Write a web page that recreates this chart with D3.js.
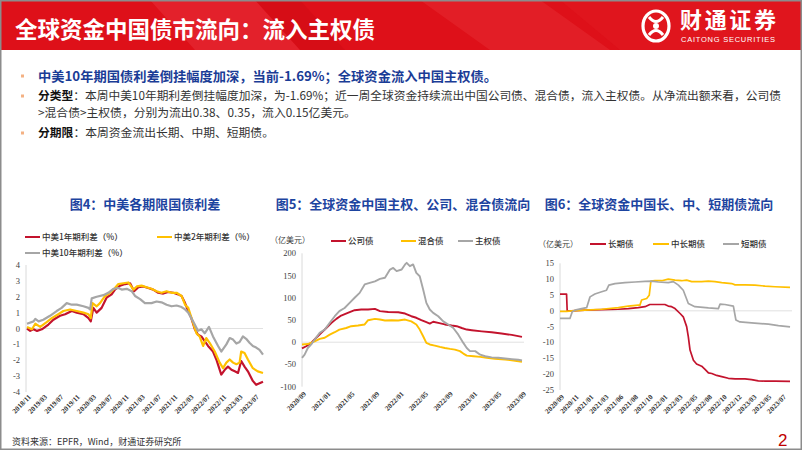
<!DOCTYPE html>
<html><head><meta charset="utf-8">
<script src="https://cdn.jsdelivr.net/npm/d3@7/dist/d3.min.js"></script>
<style>html,body{margin:0;padding:0;background:#fff;}svg{display:block;}</style>
</head><body>
<svg id="chart" width="802" height="451"></svg>
<script>
// ---------------- DATA ----------------
const pageTitle = "全球资金中国债市流向：流入主权债";
const bullet1 = "中美10年期国债利差倒挂幅度加深，当前-1.69%；全球资金流入中国主权债。";
const bullet2Head = "分类型";
const bullet2Line1 = "：本周中美10年期利差倒挂幅度加深，为-1.69%；近一周全球资金持续流出中国公司债、混合债，流入主权债。从净流出额来看，公司债";
const bullet2Line2 = ">混合债>主权债，分别为流出0.38、0.35，流入0.15亿美元。";
const bullet3Head = "分期限";
const bullet3Body = "：本周资金流出长期、中期、短期债。";
const sourceText = "资料来源：EPFR，Wind，财通证券研究所";
const pageNum = "2";

// Figure 4
const fig4Title = "图4：中美各期限国债利差";
const fig4Legend = ["中美1年期利差（%）", "中美2年期利差（%）", "中美10年期利差（%）"];
const fig4YTicks = [4, 3, 2, 1, 0, -1, -2, -3, -4];
const fig4XTicks = ["2018-11-01","2019-03-01","2019-07-01","2019-11-01","2020-03-01","2020-07-01","2020-11-01","2021-03-01","2021-07-01","2021-11-01","2022-03-01","2022-07-01","2022-11-01","2023-03-01","2023-07-01"];
const fig4Domain = ["2018-11-01", "2023-09-01"];
const fig4Dates1Y = ["2018-11-01","2018-11-25","2018-12-20","2019-01-15","2019-02-20","2019-04-10","2019-05-17","2019-07-06","2019-08-13","2019-10-02","2019-11-08","2019-12-28","2020-02-04","2020-02-21","2020-03-11","2020-04-05","2020-05-12","2020-06-19","2020-07-26","2020-08-20","2020-09-27","2020-11-04","2020-12-11","2021-01-10","2021-02-11","2021-03-19","2021-04-26","2021-06-02","2021-07-09","2021-08-16","2021-09-22","2021-10-30","2021-12-06","2021-12-31","2022-01-26","2022-02-19","2022-03-14","2022-04-09","2022-05-03","2022-05-28","2022-06-22","2022-07-17","2022-08-23","2022-09-17","2022-10-24","2022-11-19","2022-12-13","2023-01-08","2023-02-02","2023-02-26","2023-03-22","2023-04-16","2023-05-11","2023-06-17","2023-07-12","2023-08-06","2023-09-01"];
const fig4Val1Y = [0.0,-0.15,-0.05,-0.15,-0.05,0.25,0.55,0.8,0.9,1.1,1.0,0.9,0.65,0.45,1.3,1.0,1.3,1.95,2.15,2.45,2.7,2.8,2.85,2.35,2.6,2.65,2.55,2.45,2.25,2.2,2.3,2.25,2.15,2.05,1.6,1.1,0.65,-0.05,-0.4,-0.5,-0.8,-1.1,-1.45,-1.95,-2.9,-2.6,-2.4,-2.6,-2.7,-2.8,-2.05,-2.4,-2.7,-3.3,-3.55,-3.45,-3.35];
const fig4Dates2Y = ["2018-11-01","2018-12-08","2019-01-02","2019-02-08","2019-03-28","2019-05-05","2019-06-23","2019-07-31","2019-09-19","2019-11-08","2019-12-28","2020-02-04","2020-02-21","2020-03-05","2020-04-05","2020-04-30","2020-06-07","2020-07-14","2020-08-20","2020-09-14","2020-10-22","2020-11-28","2021-01-05","2021-01-30","2021-03-07","2021-04-13","2021-05-20","2021-06-27","2021-08-03","2021-09-10","2021-10-17","2021-11-24","2021-12-31","2022-01-26","2022-02-19","2022-03-27","2022-04-21","2022-05-15","2022-06-10","2022-07-04","2022-07-29","2022-09-05","2022-10-12","2022-11-06","2022-12-01","2022-12-26","2023-01-20","2023-02-14","2023-03-10","2023-03-22","2023-04-16","2023-05-11","2023-06-17","2023-07-24","2023-09-01"];
const fig4Val2Y = [0.1,-0.05,0.3,0.1,0.4,0.65,0.9,1.1,1.2,1.1,1.0,0.9,0.65,1.6,1.4,1.6,2.05,2.25,2.55,2.8,2.85,2.9,2.45,2.65,2.7,2.6,2.5,2.35,2.25,2.35,2.25,2.25,2.05,1.5,1.3,0.35,-0.3,-0.5,-1.1,-0.6,-0.9,-1.45,-2.15,-2.5,-2.15,-1.95,-2.15,-2.25,-2.15,-1.45,-1.55,-1.95,-2.5,-2.7,-2.8];
const fig4Dates10Y = ["2018-11-01","2018-12-20","2019-01-02","2019-01-27","2019-03-03","2019-04-22","2019-06-11","2019-07-18","2019-08-25","2019-10-02","2019-11-08","2019-12-28","2020-02-04","2020-02-16","2020-02-28","2020-04-05","2020-05-25","2020-07-01","2020-08-08","2020-09-14","2020-10-09","2020-11-16","2020-12-23","2021-01-17","2021-02-24","2021-04-01","2021-05-20","2021-06-27","2021-08-03","2021-09-10","2021-10-17","2021-11-24","2021-12-31","2022-01-26","2022-02-19","2022-03-27","2022-05-03","2022-05-28","2022-06-22","2022-07-24","2022-08-23","2022-09-30","2022-10-24","2022-12-01","2022-12-26","2023-01-20","2023-02-14","2023-03-10","2023-04-04","2023-04-28","2023-05-23","2023-06-17","2023-07-12","2023-08-06","2023-09-01"];
const fig4Val10Y = [0.3,0.45,0.6,0.45,0.55,0.8,1.1,1.3,1.6,1.5,1.5,1.4,1.3,1.2,1.9,2.0,2.1,2.25,2.5,2.55,2.45,2.5,2.35,2.05,1.85,1.6,1.6,1.7,1.65,1.5,1.4,1.45,1.35,1.2,1.0,0.45,-0.15,-0.05,-0.3,0.1,-0.5,-1.1,-1.45,-1.0,-0.6,-0.7,-0.95,-0.85,-0.5,-0.65,-0.9,-1.1,-1.2,-1.35,-1.65];

// Figure 5
const fig5Title = "图5：全球资金中国主权、公司、混合债流向";
const fig5Unit = "（亿美元）";
const fig5Legend = ["公司债", "混合债", "主权债"];
const fig5YTicks = [200, 150, 100, 50, 0, -50, -100];
const fig5XTicks = ["2020-09-01","2021-01-01","2021-05-01","2021-09-01","2022-01-01","2022-05-01","2022-09-01","2023-01-01","2023-05-01","2023-09-01"];
const fig5Domain = ["2020-09-01", "2023-09-01"];
const fig5DatesCorp = ["2020-09-01","2020-09-22","2020-10-17","2020-11-11","2020-12-06","2020-12-31","2021-01-26","2021-02-19","2021-03-15","2021-04-17","2021-05-21","2021-06-23","2021-07-27","2021-08-30","2021-09-24","2021-11-04","2021-12-24","2022-01-27","2022-02-27","2022-03-24","2022-04-18","2022-05-13","2022-05-30","2022-06-16","2022-07-11","2022-08-13","2022-09-16","2022-10-11","2022-11-05","2022-11-30","2022-12-25","2023-02-13","2023-04-03","2023-05-22","2023-07-12","2023-09-01"];
const fig5Corp = [-14,-9,-1.5,10,21,32,43.5,52.5,60,66,72,73.5,73.5,75,70,68,67.5,64.5,58.5,55,49.5,45,42,46,43.5,40,37.5,36,32,28.5,27,24.5,22.5,19.5,16.5,12];
const fig5DatesHybrid = ["2020-09-01","2020-09-30","2020-11-03","2020-11-28","2020-12-23","2021-01-17","2021-02-11","2021-03-06","2021-04-09","2021-05-04","2021-06-07","2021-07-10","2021-07-27","2021-08-30","2021-09-24","2021-10-19","2021-11-21","2021-12-24","2022-01-27","2022-02-27","2022-03-24","2022-04-10","2022-04-27","2022-05-13","2022-05-30","2022-06-24","2022-07-19","2022-08-13","2022-09-08","2022-10-02","2022-10-27","2022-11-13","2022-11-30","2023-01-03","2023-02-05","2023-03-09","2023-04-19","2023-06-09","2023-07-20","2023-09-01"];
const fig5Hybrid = [-5,-4,2,7.5,10,17,22.5,28.5,32,36,37.5,40,49.5,52.5,51,49,49.5,49,51,47,40,28.5,13.5,-1.5,-5,-7.5,-10.5,-13,-15,-16.5,-20,-25.5,-30,-31.5,-33,-35,-37,-39,-41,-44];
const fig5DatesSov = ["2020-09-01","2020-09-14","2020-09-30","2020-10-17","2020-11-03","2020-11-28","2020-12-23","2021-01-17","2021-02-11","2021-03-06","2021-04-01","2021-04-26","2021-05-21","2021-06-15","2021-07-10","2021-08-04","2021-08-30","2021-09-24","2021-10-19","2021-11-13","2021-11-29","2021-12-16","2022-01-10","2022-01-27","2022-02-04","2022-02-20","2022-03-08","2022-03-24","2022-04-10","2022-04-27","2022-05-13","2022-05-30","2022-06-16","2022-07-11","2022-08-05","2022-08-30","2022-09-24","2022-10-19","2022-11-13","2022-11-30","2022-12-16","2023-01-11","2023-02-05","2023-03-02","2023-04-03","2023-05-06","2023-06-09","2023-07-12","2023-08-14","2023-09-01"];
const fig5Sov = [-35,-28,-13,-5,6,21,28.5,43.5,58.5,70,77,88.5,100,111,130,133.5,137,142.5,145,163.5,167,160,163.5,175,178.5,171,175,156,148.5,118.5,88.5,73.5,66,58.5,47,40,32,17,-1.5,-13,-20,-20,-28,-31.5,-34,-35,-36.5,-38,-39.5,-41];

// Figure 6
const fig6Title = "图6：全球资金中国长、中、短期债流向";
const fig6Unit = "（亿美元）";
const fig6Legend = ["长期债", "中长期债", "短期债"];
const fig6YTicks = [15, 10, 5, 0, -5, -10, -15, -20, -25];
const fig6XTicks = ["2020-09-02","2020-11-11","2021-01-20","2021-03-31","2021-06-09","2021-08-18","2021-10-27","2022-01-05","2022-03-16","2022-05-25","2022-08-03","2022-10-12","2022-12-21","2023-03-01","2023-05-10","2023-07-19"];
const fig6DatesLong = ["2020-09-02","2020-10-03","2020-10-06","2020-10-27","2020-12-29","2021-03-18","2021-06-05","2021-07-22","2021-09-07","2021-10-09","2021-11-01","2021-12-11","2022-01-11","2022-01-27","2022-02-12","2022-02-28","2022-03-24","2022-04-08","2022-04-24","2022-05-02","2022-05-10","2022-05-26","2022-06-10","2022-07-04","2022-07-20","2022-08-05","2022-08-21","2022-09-13","2022-10-07","2022-11-07","2022-12-09","2023-01-25","2023-02-25","2023-03-29","2023-04-30","2023-06-16","2023-08-26"];
const fig6Long = [5.3,5.3,0,0,0.2,0.4,0.5,0.7,1.0,1.3,2.0,2.0,2.0,1.5,1.3,0.7,-0.85,-1.9,-5,-8.2,-12.4,-15.6,-16.8,-17.5,-18.5,-19.6,-19.8,-20.4,-20.8,-21.3,-21.5,-21.5,-21.7,-22.1,-22.2,-22.2,-22.3];
const fig6DatesMid = ["2020-09-02","2020-10-03","2020-10-27","2020-12-29","2021-03-18","2021-06-05","2021-07-22","2021-09-07","2021-09-15","2021-09-23","2021-10-17","2021-10-29","2021-11-06","2021-11-25","2021-12-27","2022-01-27","2022-02-28","2022-03-31","2022-04-24","2022-05-18","2022-07-04","2022-08-05","2022-09-05","2022-10-07","2022-11-23","2022-12-09","2023-01-25","2023-03-13","2023-04-30","2023-06-16","2023-08-26"];
const fig6Mid = [-0.2,-0.2,0,0.2,0.5,1.0,1.5,1.8,1.8,3.4,3.9,4.9,9.4,9.5,9.5,10.0,9.7,9.5,9.7,9.2,9.2,9.4,9.2,8.9,8.6,8.2,8.2,8.1,7.8,7.6,7.4];
const fig6DatesShort = ["2020-09-02","2020-10-19","2020-10-30","2020-11-12","2020-12-13","2021-01-06","2021-01-22","2021-02-14","2021-03-18","2021-04-10","2021-04-21","2021-05-20","2021-07-06","2021-08-23","2021-10-09","2021-11-09","2021-12-11","2022-01-27","2022-02-20","2022-03-16","2022-04-08","2022-05-02","2022-06-02","2022-08-05","2022-09-21","2022-09-29","2022-10-22","2022-12-01","2022-12-13","2023-01-01","2023-02-25","2023-05-16","2023-07-02","2023-08-26"];
const fig6Short = [-2.4,-2.4,-0.3,0.2,0.7,1.0,4.4,5.3,6.0,6.5,8.1,8.6,8.9,9.1,9.3,9.4,9.1,8.9,9.2,8.1,6.5,2.3,1.3,0.9,0.7,2.1,2.0,1.5,-2.9,-3.5,-3.8,-4.2,-4.7,-5.1];

// ---------------- STYLE ----------------
const RED = "#c3132d", YEL = "#ffc000", GRY = "#a6a6a6", BLUE = "#1d44a0";
const CJK = '"Noto Sans CJK SC","Noto Sans",sans-serif';
const SERIF = '"Liberation Serif","DejaVu Serif",serif';
const parse = d3.timeParse("%Y-%m-%d");
const fmt = d3.timeFormat("%Y/%m");
const svg = d3.select("#chart");

// ---------------- HEADER ----------------
svg.append("rect").attr("x",0).attr("y",0).attr("width",802).attr("height",50).attr("fill","#de1019");
const stripes = [
  {p:[[150,0],[255,0],[300,50],[195,50]], c:"#e8303a", o:0.55},
  {p:[[255,0],[300,0],[345,50],[300,50]], c:"#c90a12", o:0.35},
  {p:[[420,0],[540,0],[610,50],[490,50]], c:"#e63038", o:0.45},
  {p:[[560,0],[802,0],[802,50],[620,50]], c:"#e21a22", o:0.5}
];
stripes.forEach(s => svg.append("polygon").attr("points", s.p.map(d=>d.join(",")).join(" ")).attr("fill",s.c).attr("opacity",s.o));
svg.append("text").attr("x",15).attr("y",38).attr("font-family",CJK).attr("font-weight",700)
  .attr("font-size",22.5).attr("fill","#fff").text(pageTitle);
// logo
const lg = svg.append("g").attr("transform","translate(656,26)");
lg.append("ellipse").attr("rx",13).attr("ry",15).attr("fill","none").attr("stroke","#fff").attr("stroke-width",3.2);
lg.append("path").attr("d","M-7,-9 Q0,0 7,-9 M-7,9 Q0,0 7,9").attr("fill","none").attr("stroke","#fff").attr("stroke-width",3);
lg.append("circle").attr("r",3).attr("fill","#fff");
svg.append("text").attr("x",680).attr("y",28).attr("font-family",CJK).attr("font-weight",700)
  .attr("font-size",22).attr("fill","#fff").attr("textLength",96).text("财通证券");
svg.append("text").attr("x",681).attr("y",42).attr("font-family",'"Liberation Sans",Arial,sans-serif')
  .attr("font-size",7.5).attr("fill","#fff").attr("textLength",94).text("CAITONG SECURITIES");

// frame
svg.append("rect").attr("x",0.75).attr("y",0.75).attr("width",800.5).attr("height",448.5)
  .attr("fill","none").attr("stroke","#8c8c8c").attr("stroke-width",1.5);

// ---------------- BULLETS ----------------
[76, 96, 133].forEach(y => svg.append("rect").attr("x",21).attr("y",y-1.5).attr("width",3).attr("height",3).attr("fill","#f4b183"));
svg.append("text").attr("x",38).attr("y",81).attr("font-family",CJK).attr("font-weight",700)
  .attr("font-size",13).attr("fill","#1a3c96").attr("textLength",459).attr("lengthAdjust","spacingAndGlyphs").text(bullet1);
const t2 = svg.append("text").attr("x",38).attr("y",100).attr("font-family",CJK).attr("font-size",11.8).attr("fill","#333");
t2.append("tspan").attr("font-weight",700).attr("fill","#111").text(bullet2Head);
t2.append("tspan").text(bullet2Line1);
t2.attr("textLength",743).attr("lengthAdjust","spacingAndGlyphs");
svg.append("text").attr("x",38).attr("y",117).attr("font-family",CJK).attr("font-size",11.8).attr("fill","#333").text(bullet2Line2);
const t3 = svg.append("text").attr("x",38).attr("y",137).attr("font-family",CJK).attr("font-size",11.8).attr("fill","#333");
t3.append("tspan").attr("font-weight",700).attr("fill","#111").text(bullet3Head);
t3.append("tspan").text(bullet3Body);

// ---------------- CHART HELPER ----------------
function lineChart(cfg) {
  const g = svg.append("g");
  // title
  g.append("text").attr("x",cfg.titleX).attr("y",209).attr("text-anchor","middle").attr("font-family",CJK)
    .attr("font-weight",700).attr("font-size",13).attr("fill",BLUE).text(cfg.title);
  // axis line
  g.append("line").attr("x1",cfg.axisX).attr("x2",cfg.axisX).attr("y1",cfg.y.range()[1]).attr("y2",cfg.y.range()[0])
    .attr("stroke","#d0d0d0").attr("stroke-width",0.8);
  // zero line
  g.append("line").attr("x1",cfg.axisX).attr("x2",cfg.plotRight).attr("y1",cfg.y(0)).attr("y2",cfg.y(0))
    .attr("stroke","#d9d9d9").attr("stroke-width",0.8);
  // y ticks
  g.selectAll(null).data(cfg.yTicks).enter().append("text")
    .attr("x",cfg.axisX-6).attr("y",d=>cfg.y(d)+3).attr("text-anchor","end")
    .attr("font-family",SERIF).attr("font-size",8.5).attr("fill","#404040").text(d=>d);
  // x ticks
  g.selectAll(null).data(cfg.xTicks.map(parse)).enter().append("text")
    .attr("transform",d=>`translate(${cfg.x(d)+3},${cfg.xLabelY}) rotate(-45)`)
    .attr("text-anchor","end").attr("dy","0.3em")
    .attr("font-family",SERIF).attr("font-weight",700).attr("font-size",7.2).attr("fill","#333").text(d=>fmt(d));
  // series
  const line = d3.line().x(d=>cfg.x(d[0])).y(d=>cfg.y(d[1]));
  cfg.series.forEach(s => {
    const pts = s.dates.map((d,i)=>[parse(d), s.values[i]]);
    g.append("path").attr("d",line(pts)).attr("fill","none").attr("stroke",s.color)
      .attr("stroke-width",cfg.lw).attr("stroke-linejoin","round");
  });
  // legend
  cfg.legend.forEach(l => {
    g.append("line").attr("x1",l.x).attr("x2",l.x+l.len).attr("y1",l.y).attr("y2",l.y).attr("stroke",l.color).attr("stroke-width",2);
    g.append("text").attr("x",l.x+l.len+2).attr("y",l.y+3).attr("font-family",CJK).attr("font-weight",500)
      .attr("font-size",8.5).attr("fill","#333").text(l.label);
  });
  if (cfg.unit) g.append("text").attr("x",cfg.unit.x).attr("y",cfg.unit.y).attr("font-family",CJK)
    .attr("font-size",8).attr("fill","#404040").text(cfg.unit.text);
}

// Figure 4
lineChart({
  title: fig4Title, titleX: 145,
  x: d3.scaleTime().domain(fig4Domain.map(parse)).range([27, 263]),
  y: d3.scaleLinear().domain([-4, 4]).range([392, 265]),
  axisX: 26, plotRight: 263, xLabelY: 396, lw: 2.2,
  yTicks: fig4YTicks, xTicks: fig4XTicks,
  series: [
    {dates: fig4Dates1Y, values: fig4Val1Y, color: RED},
    {dates: fig4Dates2Y, values: fig4Val2Y, color: YEL},
    {dates: fig4Dates10Y, values: fig4Val10Y, color: GRY}
  ],
  legend: [
    {x:25, y:237, len:15, color:RED, label:fig4Legend[0]},
    {x:157, y:237, len:15, color:YEL, label:fig4Legend[1]},
    {x:25, y:253, len:15, color:GRY, label:fig4Legend[2]}
  ]
});

// Figure 5
lineChart({
  title: fig5Title, titleX: 403,
  x: d3.scaleTime().domain(fig5Domain.map(parse)).range([302, 522]),
  y: d3.scaleLinear().domain([-100, 200]).range([386.7, 253.3]),
  axisX: 302, plotRight: 524, xLabelY: 393, lw: 1.9,
  yTicks: fig5YTicks, xTicks: fig5XTicks,
  series: [
    {dates: fig5DatesCorp, values: fig5Corp, color: RED},
    {dates: fig5DatesHybrid, values: fig5Hybrid, color: YEL},
    {dates: fig5DatesSov, values: fig5Sov, color: GRY}
  ],
  legend: [
    {x:331, y:241, len:15, color:RED, label:fig5Legend[0]},
    {x:401, y:241, len:15, color:YEL, label:fig5Legend[1]},
    {x:458, y:241, len:15, color:GRY, label:fig5Legend[2]}
  ],
  unit: {x:270, y:243, text: fig5Unit}
});

// Figure 6
lineChart({
  title: fig6Title, titleX: 659,
  x: d3.scaleTime().domain([parse(fig6XTicks[0]), parse(fig6XTicks[fig6XTicks.length-1])]).range([560, 782]),
  y: d3.scaleLinear().domain([-25, 15]).range([390, 263.3]),
  axisX: 560, plotRight: 792, xLabelY: 396, lw: 1.7,
  yTicks: fig6YTicks, xTicks: fig6XTicks,
  series: [
    {dates: fig6DatesLong, values: fig6Long, color: RED},
    {dates: fig6DatesMid, values: fig6Mid, color: YEL},
    {dates: fig6DatesShort, values: fig6Short, color: GRY}
  ],
  legend: [
    {x:590, y:244, len:16, color:RED, label:fig6Legend[0]},
    {x:653, y:244, len:16, color:YEL, label:fig6Legend[1]},
    {x:723, y:244, len:16, color:GRY, label:fig6Legend[2]}
  ],
  unit: {x:538, y:247, text: fig6Unit}
});

// ---------------- FOOTER ----------------
svg.append("text").attr("x",12).attr("y",445).attr("font-family",CJK).attr("font-size",9).attr("fill","#333").text(sourceText);
svg.append("text").attr("x",778).attr("y",446).attr("font-family",'"Liberation Sans",Arial,sans-serif').attr("font-size",17).attr("fill","#c00000").text(pageNum);
</script>
</body></html>
